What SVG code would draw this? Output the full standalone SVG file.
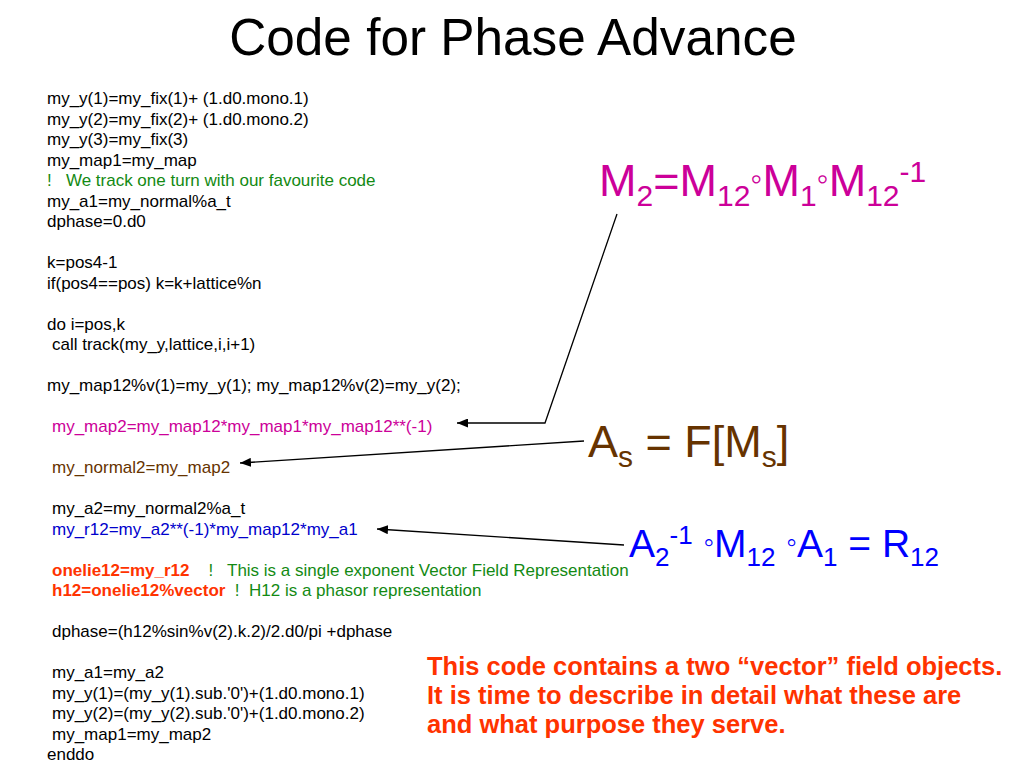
<svg xmlns="http://www.w3.org/2000/svg" width="1024" height="768" viewBox="0 0 1024 768">
<style>
text{font-family:"Liberation Sans",Arial,Helvetica,sans-serif}
.code{font-size:17px;fill:#000;white-space:pre}
.mag{fill:#CC0099}
.brn{fill:#663300}
.blu{fill:#0000CC}
.red{fill:#FF3300;font-weight:bold}
.grn{fill:#138A13}
.big{font-size:45px}
.conn{stroke:#000;stroke-width:1.3;fill:none;marker-end:url(#arr)}
</style>
<defs>
<marker id="arr" markerUnits="userSpaceOnUse" markerWidth="12" markerHeight="9" refX="11" refY="4.5" orient="auto">
<path d="M0,0 L11,4.5 L0,9 z" fill="#000"/>
</marker>
</defs>
<rect width="1024" height="768" fill="#fff"/>
<g id="title">
<text x="513" y="55" font-size="51.3" text-anchor="middle">Code for Phase Advance</text>
</g>
<g id="code">
<text class="code" x="47" y="104">my_y(1)=my_fix(1)+ (1.d0.mono.1)</text>
<text class="code" x="47" y="124.5">my_y(2)=my_fix(2)+ (1.d0.mono.2)</text>
<text class="code" x="47" y="145">my_y(3)=my_fix(3)</text>
<text class="code" x="47" y="165.5">my_map1=my_map</text>
<text class="code grn" x="47" y="186" xml:space="preserve">!   We track one turn with our favourite code</text>
<text class="code" x="47" y="206.5">my_a1=my_normal%a_t</text>
<text class="code" x="47" y="227">dphase=0.d0</text>
<text class="code" x="47" y="268">k=pos4-1</text>
<text class="code" x="47" y="288.5">if(pos4==pos) k=k+lattice%n</text>
<text class="code" x="47" y="329.5">do i=pos,k</text>
<text class="code" x="52" y="350">call track(my_y,lattice,i,i+1)</text>
<text class="code" x="47" y="391">my_map12%v(1)=my_y(1); my_map12%v(2)=my_y(2);</text>
<text class="code mag" x="52" y="432">my_map2=my_map12*my_map1*my_map12**(-1)</text>
<text class="code brn" x="52" y="473">my_normal2=my_map2</text>
<text class="code" x="52" y="514">my_a2=my_normal2%a_t</text>
<text class="code blu" x="52" y="534.5">my_r12=my_a2**(-1)*my_map12*my_a1</text>
<text class="code" x="52" y="575.5" xml:space="preserve"><tspan class="red">onelie12=my_r12</tspan><tspan class="grn">    !   This is a single exponent Vector Field Representation</tspan></text>
<text class="code" x="52" y="596" xml:space="preserve"><tspan class="red">h12=onelie12%vector</tspan><tspan class="grn">  !  H12 is a phasor representation</tspan></text>
<text class="code" x="52" y="637">dphase=(h12%sin%v(2).k.2)/2.d0/pi +dphase</text>
<text class="code" x="52" y="678">my_a1=my_a2</text>
<text class="code" x="52" y="698.5">my_y(1)=(my_y(1).sub.'0')+(1.d0.mono.1)</text>
<text class="code" x="52" y="719">my_y(2)=(my_y(2).sub.'0')+(1.d0.mono.2)</text>
<text class="code" x="52" y="739.5">my_map1=my_map2</text>
<text class="code" x="47" y="760">enddo</text>
</g>
<g id="formula-m2">
<text class="big mag" x="599" y="196">M<tspan font-size="30" dy="10">2</tspan><tspan dy="-10">=M</tspan><tspan font-size="30" dy="10">12</tspan><tspan dy="-16" font-size="34">◦</tspan><tspan dy="6">M</tspan><tspan font-size="30" dy="10">1</tspan><tspan dy="-16" font-size="34">◦</tspan><tspan dy="6">M</tspan><tspan font-size="30" dy="10">12</tspan><tspan font-size="30" dy="-24">-1</tspan></text>
</g>
<g id="formula-as">
<text class="big brn" x="588" y="457">A<tspan font-size="30" dy="10">s</tspan><tspan dy="-10"> = F[M</tspan><tspan font-size="30" dy="10">s</tspan><tspan dy="-10">]</tspan></text>
</g>
<g id="formula-r12">
<text font-size="39" fill="#0000FF" x="629" y="557">A<tspan font-size="26" dy="9">2</tspan><tspan font-size="26" dy="-22">-1</tspan><tspan dy="13"> </tspan><tspan font-size="30" dy="-5">◦</tspan><tspan dy="5">M</tspan><tspan font-size="26" dy="9">12</tspan><tspan dy="-9"> </tspan><tspan font-size="30" dy="-5">◦</tspan><tspan dy="5">A</tspan><tspan font-size="26" dy="9">1</tspan><tspan dy="-9"> = R</tspan><tspan font-size="26" dy="9">12</tspan></text>
</g>
<g id="note">
<text class="red" font-size="25.5" x="427" y="675">This code contains a two “vector” field objects.</text>
<text class="red" font-size="25.5" x="427" y="704">It is time to describe in detail what these are</text>
<text class="red" font-size="25.5" x="427" y="733">and what purpose they serve.</text>
</g>
<g id="connectors">
<polyline class="conn" points="617,214 545,423 457,423"/>
<line class="conn" x1="584" y1="441" x2="240" y2="463"/>
<line class="conn" x1="624" y1="545" x2="377" y2="529"/>
</g>
</svg>
